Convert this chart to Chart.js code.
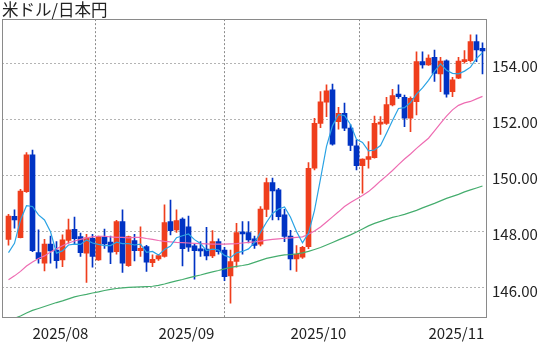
<!DOCTYPE html>
<html>
<head>
<meta charset="utf-8">
<script src="https://cdn.jsdelivr.net/npm/chart.js@4.4.1/dist/chart.umd.min.js"></script>
<style>
  html, body { margin: 0; padding: 0; background: #fff; }
  #wrap { width: 560px; height: 344px; }
</style>
</head>
<body>
<div id="wrap"><canvas id="c" width="560" height="344"></canvas></div>
<script>
// USD/JPY daily candles, 2025-07-28 .. 2025-11-14
const dates = [
  '2025-07-28','2025-07-29','2025-07-30','2025-07-31',
  '2025-08-01','2025-08-04','2025-08-05','2025-08-06','2025-08-07','2025-08-08',
  '2025-08-11','2025-08-12','2025-08-13','2025-08-14','2025-08-15',
  '2025-08-18','2025-08-19','2025-08-20','2025-08-21','2025-08-22',
  '2025-08-25','2025-08-26','2025-08-27','2025-08-28','2025-08-29',
  '2025-09-01','2025-09-02','2025-09-03','2025-09-04','2025-09-05',
  '2025-09-08','2025-09-09','2025-09-10','2025-09-11','2025-09-12',
  '2025-09-15','2025-09-16','2025-09-17','2025-09-18','2025-09-19',
  '2025-09-22','2025-09-23','2025-09-24','2025-09-25','2025-09-26',
  '2025-09-29','2025-09-30',
  '2025-10-01','2025-10-02','2025-10-03',
  '2025-10-06','2025-10-07','2025-10-08','2025-10-09','2025-10-10',
  '2025-10-13','2025-10-14','2025-10-15','2025-10-16','2025-10-17',
  '2025-10-20','2025-10-21','2025-10-22','2025-10-23','2025-10-24',
  '2025-10-27','2025-10-28','2025-10-29','2025-10-30','2025-10-31',
  '2025-11-03','2025-11-04','2025-11-05','2025-11-06','2025-11-07',
  '2025-11-10','2025-11-11','2025-11-12','2025-11-13','2025-11-14'
];

const open = [
  147.73,148.55,147.79,149.43,150.74,147.26,146.88,147.56,147.35,147.00,
  147.69,148.09,147.83,147.24,147.77,147.00,147.81,147.63,147.29,148.36,
  146.79,147.69,147.33,147.47,146.90,147.03,147.12,148.36,148.07,148.45,
  148.18,147.50,147.39,147.38,147.14,147.65,147.35,146.43,146.94,148.00,
  147.97,147.75,147.56,148.80,149.75,149.49,148.60,147.85,147.03,147.10,
  147.47,150.26,151.86,152.61,153.05,151.92,152.22,151.69,151.06,150.35,
  150.58,150.64,151.83,151.86,152.52,152.90,152.79,152.04,152.63,154.06,
  153.94,154.21,153.62,154.09,152.99,153.47,154.06,154.09,154.77,154.53
];
const high = [
  148.62,148.78,149.51,150.82,150.91,148.07,147.73,147.85,147.65,147.89,
  148.45,148.52,147.95,147.91,147.91,147.85,148.10,147.85,148.41,148.78,
  147.85,147.91,148.18,147.52,147.18,147.20,148.96,149.13,148.78,148.50,
  148.56,147.55,147.65,148.16,148.04,147.75,147.45,147.35,148.30,148.36,
  148.36,147.85,148.90,149.91,149.91,149.55,148.80,148.05,147.51,147.48,
  150.46,152.04,152.99,153.23,153.26,152.43,152.58,151.82,151.27,150.60,
  151.21,152.12,152.10,152.79,153.07,153.23,152.87,152.80,154.41,154.41,
  154.30,154.47,154.21,154.12,153.50,154.21,154.45,155.01,155.01,154.73
];
const low = [
  147.52,148.13,147.78,149.40,147.29,146.88,146.61,146.88,146.70,146.76,
  147.59,147.57,147.12,146.20,146.74,146.98,147.41,146.86,147.20,146.55,
  146.77,146.96,147.12,146.59,146.76,146.98,147.10,147.89,147.98,146.78,
  147.30,146.31,147.12,147.00,147.08,147.20,146.26,145.46,146.74,147.20,
  147.60,147.41,147.50,148.54,148.42,148.42,147.65,146.64,146.59,147.05,
  147.40,150.20,151.71,152.10,151.08,151.65,151.60,150.89,150.20,149.37,
  150.26,150.62,151.47,151.82,152.48,152.75,151.74,151.56,152.16,153.82,
  153.92,153.35,152.99,152.79,152.81,153.45,154.00,154.05,154.06,153.62
];
const close = [
  148.56,148.42,149.45,150.74,147.33,147.04,147.56,147.32,146.97,147.71,
  148.07,147.75,147.26,147.78,147.12,147.83,147.57,147.27,148.36,146.88,
  147.83,147.33,147.41,146.92,147.02,147.15,148.33,148.04,148.40,147.40,
  147.45,147.33,147.32,147.14,147.65,147.29,146.40,146.94,147.97,147.92,
  147.71,147.51,148.81,149.75,149.45,148.54,147.83,147.03,147.20,147.45,
  150.26,151.86,152.63,153.02,151.12,152.22,151.69,151.07,150.35,150.59,
  150.68,151.86,151.89,152.53,152.85,152.81,152.04,152.75,154.06,153.94,
  154.18,153.64,154.08,152.90,153.41,154.08,154.12,154.77,154.47,154.44
];

// moving averages (short / medium / long)
const ma5 = [
  147.26,147.59,148.42,148.93,148.90,148.60,148.42,148.00,147.24,147.32,
  147.53,147.56,147.55,147.71,147.60,147.55,147.51,147.51,147.63,147.58,
  147.58,147.53,147.56,147.27,147.30,147.17,147.37,147.49,147.79,147.86,
  147.92,147.72,147.58,147.33,147.38,147.35,147.16,147.08,147.25,147.30,
  147.39,147.61,147.98,148.34,148.65,148.81,148.88,148.52,148.01,147.61,
  147.95,148.76,149.88,151.04,151.78,152.17,152.14,151.82,151.29,151.18,
  150.88,150.91,151.07,151.51,151.96,152.39,152.42,152.60,152.90,153.12,
  153.39,153.71,153.98,153.75,153.64,153.62,153.72,153.86,154.17,154.38
];
const ma25 = [
  146.29,146.43,146.59,146.78,146.92,147.05,147.14,147.28,147.39,147.50,
  147.60,147.67,147.73,147.78,147.82,147.84,147.84,147.82,147.80,147.80,
  147.78,147.80,147.80,147.76,147.73,147.69,147.66,147.64,147.62,147.61,
  147.60,147.59,147.58,147.57,147.56,147.56,147.56,147.57,147.58,147.60,
  147.62,147.64,147.67,147.70,147.73,147.75,147.77,147.78,147.80,147.82,
  147.91,148.03,148.17,148.35,148.53,148.71,148.90,149.04,149.17,149.29,
  149.43,149.61,149.81,149.99,150.18,150.39,150.59,150.77,150.97,151.15,
  151.33,151.59,151.86,152.12,152.34,152.50,152.59,152.64,152.73,152.82
];
const ma75 = [
  144.83,144.92,145.00,145.11,145.20,145.27,145.34,145.41,145.48,145.54,
  145.61,145.68,145.73,145.77,145.82,145.86,145.91,145.95,145.98,146.00,
  146.02,146.03,146.04,146.05,146.06,146.09,146.14,146.20,146.25,146.30,
  146.36,146.41,146.46,146.52,146.57,146.62,146.68,146.73,146.77,146.80,
  146.84,146.91,146.98,147.05,147.10,147.14,147.18,147.19,147.21,147.25,
  147.30,147.37,147.44,147.53,147.62,147.71,147.80,147.89,147.99,148.10,
  148.21,148.30,148.37,148.44,148.51,148.56,148.62,148.69,148.76,148.85,
  148.93,149.01,149.10,149.19,149.26,149.33,149.42,149.49,149.56,149.63
];

const yTicks = [146, 148, 150, 152, 154];
const titleText = '米ドル/日本円';

const UP = '#ef3e1d';
const DOWN = '#0033c4';
const FONT = "'Noto Sans CJK JP', 'Noto Sans', sans-serif";

// first trading day of each new month gets a grid line and label
const monthStarts = [];
dates.forEach((d, i) => {
  if (i > 0 && d.slice(5, 7) !== dates[i - 1].slice(5, 7)) monthStarts.push(i);
});
const monthLabel = i => dates[i].slice(0, 7).replace('-', '/');

const candleColors = open.map((o, i) => close[i] >= o ? UP : DOWN);
const pts = arr => arr.map((v, i) => ({ x: i, y: v }));

const frame = {
  id: 'frame',
  afterDatasetsDraw(chart) {
    const a = chart.chartArea, ctx = chart.ctx;
    ctx.save();
    ctx.strokeStyle = '#8a8a8a';
    ctx.lineWidth = 1;
    ctx.strokeRect(Math.round(a.left) + 0.5, Math.round(a.top) + 0.5,
                   Math.round(a.right - a.left) - 1, Math.round(a.bottom - a.top) - 1);
    ctx.restore();
  }
};

new Chart(document.getElementById('c'), {
  type: 'bar',
  data: {
    datasets: [
      { type: 'line', data: pts(ma5), borderColor: '#2ba3e4', borderWidth: 1.2, pointRadius: 0, tension: 0, order: 0 },
      { type: 'line', data: pts(ma25), borderColor: '#ee6cb2', borderWidth: 1.2, pointRadius: 0, tension: 0, order: 1 },
      { type: 'line', data: pts(ma75), borderColor: '#45ad6e', borderWidth: 1.2, pointRadius: 0, tension: 0, order: 2 },
      { type: 'bar', data: open.map((o, i) => ({ x: i, y: [o, close[i]] })),
        backgroundColor: candleColors, borderWidth: 0, barThickness: 5, minBarLength: 2,
        grouped: false, order: 3 },
      { type: 'bar', data: low.map((l, i) => ({ x: i, y: [l, high[i]] })),
        backgroundColor: candleColors, borderWidth: 0, barThickness: 1,
        grouped: false, order: 4 }
    ]
  },
  options: {
    responsive: false,
    animation: false,
    devicePixelRatio: 1,
    layout: { padding: { left: 2, right: 0, top: 0, bottom: 0 } },
    plugins: {
      legend: { display: false },
      tooltip: { enabled: false },
      title: {
        display: true, text: titleText, align: 'start', color: '#222',
        font: { family: FONT, size: 16.5, weight: 'normal', lineHeight: 1.16 },
        padding: 0
      }
    },
    scales: {
      x: {
        type: 'linear', min: -1.0833, max: 79.75, offset: false,
        afterBuildTicks: s => { s.ticks = monthStarts.map(v => ({ value: v })); },
        afterFit: s => { s.height = 26; },
        ticks: {
          callback: v => monthLabel(v), align: 'start', padding: 6,
          maxRotation: 0, autoSkip: false, color: '#222',
          font: { family: FONT, size: 15 }
        },
        grid: { color: '#8c8c8c', drawTicks: false },
        border: { display: false, dash: [2, 2] }
      },
      y: {
        type: 'linear', position: 'right', min: 144.93, max: 155.57,
        afterBuildTicks: s => { s.ticks = yTicks.map(v => ({ value: v })); },
        afterFit: s => { s.width = 73; },
        ticks: {
          callback: v => Number(v).toFixed(2), padding: 5, labelOffset: 3, color: '#222',
          font: { family: FONT, size: 15 }
        },
        grid: { color: '#b4b4b4', drawTicks: false },
        border: { display: false, dash: [2, 2] }
      }
    }
  },
  plugins: [frame]
});
</script>
</body>
</html>
